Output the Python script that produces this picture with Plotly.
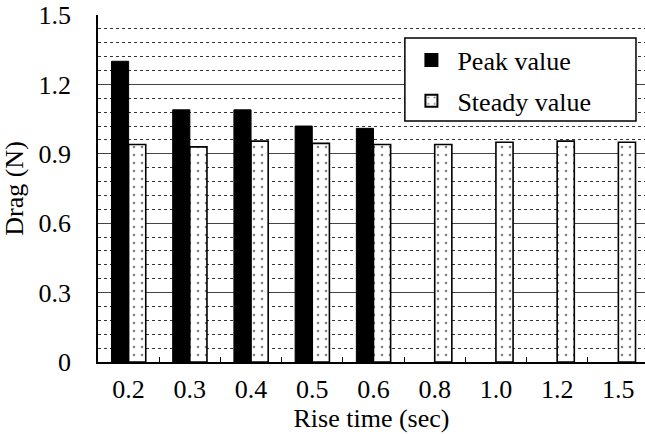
import plotly.graph_objects as go

categories = ["0.2", "0.3", "0.4", "0.5", "0.6", "0.8", "1.0", "1.2", "1.5"]
peak_values = [1.30, 1.09, 1.09, 1.02, 1.01, None, None, None, None]
steady_values = [0.94, 0.93, 0.955, 0.945, 0.94, 0.94, 0.95, 0.955, 0.95]
y_ticks = [0, 0.3, 0.6, 0.9, 1.2, 1.5]
y_tick_labels = ["0", "0.3", "0.6", "0.9", "1.2", "1.5"]

xpos = list(range(len(categories)))
FONT = "Liberation Serif"
FS = 26

fig = go.Figure()
fig.add_trace(go.Bar(
    x=xpos, y=peak_values, name="Peak value", legendgroup="a",
    marker=dict(color="black", line=dict(color="black", width=1)),
))
fig.add_trace(go.Bar(
    x=xpos, y=steady_values, name="Steady value", legendgroup="b",
    marker=dict(color="white", line=dict(color="black", width=1.6),
                pattern=dict(shape=".", fgcolor="black", bgcolor="white",
                             size=8, solidity=0.08)),
))

# legend frame (white box with black border behind the legend entries)
fig.add_shape(type="rect", xref="paper", yref="paper",
              x0=0.561, x1=0.9835, y0=0.6945, y1=0.9337,
              fillcolor="white", line=dict(color="black", width=1.5),
              layer="above")

fig.update_layout(
    width=645, height=434,
    margin=dict(l=98, r=0, t=15, b=72),
    paper_bgcolor="white", plot_bgcolor="white",
    barmode="group", bargap=0.44, bargroupgap=0,
    font=dict(family=FONT, size=FS, color="black"),
    showlegend=True,
    legend=dict(
        x=0.562, y=0.938, xanchor="left", yanchor="top",
        bgcolor="rgba(0,0,0,0)", borderwidth=0,
        font=dict(family=FONT, size=FS, color="black"),
        itemsizing="constant", itemwidth=42,
        tracegroupgap=4,
    ),
)

fig.update_xaxes(
    range=[-0.5, 8.435],
    tickmode="array", tickvals=xpos, ticktext=categories,
    ticks="", showgrid=False,
    showline=True, linecolor="black", linewidth=1.5,
    ticklabelstandoff=3,
    minor=dict(tickmode="array", tickvals=[i + 0.5 for i in range(8)],
               ticks="inside", ticklen=5, tickcolor="black", tickwidth=1,
               showgrid=False),
    title=dict(text="Rise time (sec)", standoff=4,
               font=dict(family=FONT, size=FS, color="black")),
    zeroline=False,
)
fig.update_yaxes(
    range=[0, 1.5],
    tickmode="array", tickvals=y_ticks, ticktext=y_tick_labels,
    ticks="", showgrid=True, gridcolor="#444444", gridwidth=1,
    showline=True, linecolor="black", linewidth=1.5,
    ticklabelstandoff=20,
    minor=dict(tickmode="linear", tick0=0, dtick=0.06,
               showgrid=True, gridcolor="#333333", gridwidth=1, griddash="dot",
               ticks=""),
    title=dict(text="Drag (N)", standoff=8,
               font=dict(family=FONT, size=FS, color="black")),
    zeroline=False,
)

fig.write_html("out.html")
